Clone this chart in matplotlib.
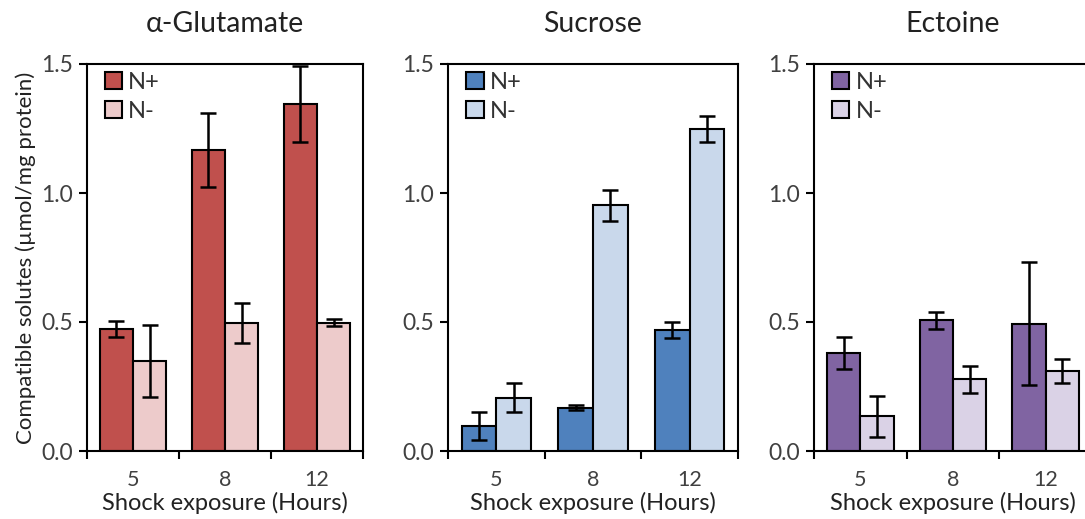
import matplotlib
matplotlib.use("Agg")
import matplotlib.pyplot as plt
import numpy as np

plt.rcParams['font.family'] = ['Lato', 'DejaVu Sans']

hours = ["5", "8", "12"]
titles = ["α-Glutamate", "Sucrose", "Ectoine"]

glu_np = [0.472, 1.167, 1.345]
glu_np_err = [0.031, 0.143, 0.148]
glu_nm = [0.348, 0.497, 0.497]
glu_nm_err = [0.140, 0.077, 0.013]

suc_np = [0.097, 0.168, 0.469]
suc_np_err = [0.053, 0.010, 0.030]
suc_nm = [0.206, 0.952, 1.249]
suc_nm_err = [0.056, 0.060, 0.050]

ect_np = [0.380, 0.506, 0.493]
ect_np_err = [0.063, 0.034, 0.239]
ect_nm = [0.134, 0.278, 0.309]
ect_nm_err = [0.079, 0.053, 0.047]

colors = [("#C0504D", "#EDCBCB"), ("#4F81BD", "#C9D8EB"), ("#8064A2", "#DAD2E6")]
data = [(glu_np, glu_np_err, glu_nm, glu_nm_err),
        (suc_np, suc_np_err, suc_nm, suc_nm_err),
        (ect_np, ect_np_err, ect_nm, ect_nm_err)]

fig = plt.figure(figsize=(10.85, 5.19), dpi=100)
axes_pos = [(87, 276), (448, 290), (814, 278)]
bottom = 1 - 451 / 519
height = (451 - 64) / 519

x = np.arange(len(hours))
w = 0.36
for i, ((l, wd), title, (c1, c2), (a, ae, b, be)) in enumerate(zip(axes_pos, titles, colors, data)):
    ax = fig.add_axes([l / 1085, bottom, wd / 1085, height])
    ax.bar(x - w / 2, a, w, color=c1, edgecolor="black", linewidth=1.5, label="N+", zorder=2)
    ax.bar(x + w / 2, b, w, color=c2, edgecolor="black", linewidth=1.5, label="N-", zorder=2)
    ax.errorbar(x - w / 2, a, yerr=ae, fmt="none", ecolor="black", elinewidth=1.8, capsize=6, capthick=1.8, zorder=3)
    ax.errorbar(x + w / 2, b, yerr=be, fmt="none", ecolor="black", elinewidth=1.8, capsize=6, capthick=1.8, zorder=3)
    ax.set_xlim(-0.5, 2.5)
    ax.set_ylim(0, 1.5)
    ax.set_yticks([0.0, 0.5, 1.0, 1.5])
    ax.set_yticklabels(["0.0", "0.5", "1.0", "1.5"], fontsize=16.5, color="#404040")
    ax.set_xticks([-0.5, 0.5, 1.5, 2.5])
    ax.set_xticklabels([])
    ax.set_xticks(x, minor=True)
    ax.set_xticklabels(hours, minor=True, fontsize=15.5, color="#404040")
    ax.tick_params(axis="x", which="minor", length=0, pad=14)
    ax.tick_params(axis="x", which="major", length=6, width=1.5, direction="out")
    ax.tick_params(axis="y", length=6, width=1.5, direction="out", pad=4)
    for s in ax.spines.values():
        s.set_linewidth(1.5)
    ax.set_title(title, fontsize=20.5, pad=23, color="#222222")
    ax.set_xlabel("Shock exposure (Hours)", fontsize=17, color="#222222", va="center")
    ax.xaxis.set_label_coords(0.5, -0.135)
    if i == 0:
        ax.set_ylabel("Compatible solutes (µmol/mg protein)", fontsize=16, labelpad=4, color="#222222")
    leg = ax.legend(loc="upper left", frameon=False, fontsize=17, handlelength=0.75, handleheight=0.75,
                    handletextpad=0.25, labelspacing=0.35, borderaxespad=0.0, bbox_to_anchor=(0.03, 1.005))
    for t in leg.get_texts():
        t.set_color("#333333")

fig.savefig("out.png", dpi=100)
